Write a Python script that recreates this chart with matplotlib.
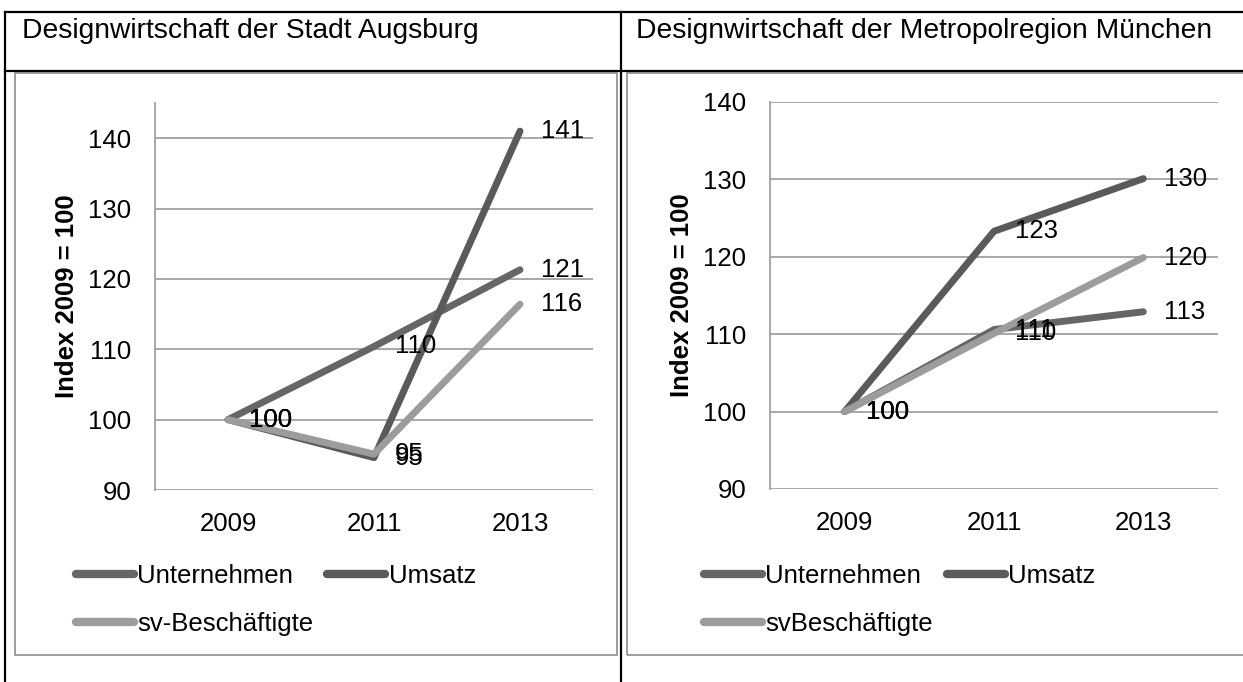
import matplotlib
matplotlib.use("Agg")
import matplotlib.pyplot as plt
from matplotlib.lines import Line2D
from matplotlib.patches import Rectangle

plt.rcParams['font.family'] = ['Liberation Sans', 'DejaVu Sans']

years = ['2009', '2011', '2013']
series_names_a = ['Unternehmen', 'Umsatz', 'sv-Beschäftigte']
series_names_m = ['Unternehmen', 'Umsatz', 'svBeschäftigte']

# Stadt Augsburg, Index 2009 = 100
unternehmen_a = [100, 110.4, 121.3]
umsatz_a = [100, 94.6, 141.0]
sv_a = [100, 95.1, 116.4]

# Metropolregion München
unternehmen_m = [100, 110.6, 112.9]
umsatz_m = [100, 123.3, 130.1]
sv_m = [100, 110.1, 119.9]

titles = ['Designwirtschaft der Stadt Augsburg',
          'Designwirtschaft der Metropolregion München']

colors = ['#666666', '#5a5a5a', '#9c9c9c']
W, H = 1243, 682
FS = 18.5


def fx(px):
    return px / W


def fy(py):
    return 1 - py / H


fig = plt.figure(figsize=(W / 100, H / 100), dpi=100)

# table frame
black = dict(color='black', lw=1.6, transform=fig.transFigure)
fig.add_artist(Line2D([fx(5), fx(1243)], [fy(12), fy(12)], **black))
fig.add_artist(Line2D([fx(5), fx(1243)], [fy(71), fy(71)], **black))
fig.add_artist(Line2D([fx(5), fx(5)], [fy(12), fy(682)], **black))
fig.add_artist(Line2D([fx(621), fx(621)], [fy(12), fy(682)], **black))

# inner chart frames
for x0, x1 in [(15, 617), (627, 1250)]:
    fig.add_artist(Rectangle((fx(x0), fy(655)), fx(x1 - x0), (655 - 73) / H,
                             transform=fig.transFigure, fill=False,
                             edgecolor='#8c8c8c', lw=1.2))

fig.text(fx(22), fy(31), titles[0], fontsize=20.3, va='center', ha='left')
fig.text(fx(636), fy(31), titles[1], fontsize=20.3, va='center', ha='left')


def draw_panel(rect, data, names, ymax, legend_x):
    ax = fig.add_axes(rect)
    x = range(len(years))
    lines = []
    for vals, c, name in zip(data, colors, names):
        ln, = ax.plot(x, vals, color=c, lw=5, solid_capstyle='round',
                      solid_joinstyle='round', label=name, zorder=3)
        lines.append(ln)
        for xi, v in zip(x, vals):
            ax.annotate(f'{round(v):d}', (xi, v), xytext=(15, 0),
                        textcoords='offset points', va='center', ha='left',
                        fontsize=FS, zorder=4)
    ax.set_xlim(-0.5, 2.5)
    ax.set_ylim(90, ymax)
    ax.set_yticks(range(90, 141, 10))
    ax.set_xticks(list(x))
    ax.set_xticklabels(years)
    ax.tick_params(axis='both', length=0, labelsize=FS)
    ax.tick_params(axis='y', pad=17)
    ax.tick_params(axis='x', pad=15.5)
    ax.yaxis.grid(True, color='#a0a0a0', lw=1.3)
    ax.set_axisbelow(True)
    for s in ['top', 'right', 'bottom']:
        ax.spines[s].set_visible(False)
    ax.spines['left'].set_color('#a0a0a0')
    ax.spines['left'].set_linewidth(1.3)
    ax.set_ylabel('Index 2009 = 100', fontsize=FS, fontweight='bold', labelpad=7)
    order = [0, 2, 1]
    leg = ax.legend([lines[i] for i in order], [names[i] for i in order],
                    ncol=2, frameon=False, fontsize=FS, loc='upper left',
                    bbox_to_anchor=(fx(legend_x), fy(564)), bbox_transform=fig.transFigure,
                    borderpad=0, borderaxespad=0, handlelength=2.26, handletextpad=0.12,
                    columnspacing=0.55, labelspacing=0.93)
    for hl in leg.get_lines():
        hl.set_linewidth(6)
    return ax


draw_panel([fx(155), fy(490), fx(593 - 155), 387 / H],
           [unternehmen_a, umsatz_a, sv_a], series_names_a, 145, 76)
draw_panel([fx(770), fy(489), fx(1218 - 770), 387 / H],
           [unternehmen_m, umsatz_m, sv_m], series_names_m, 140, 704)

fig.savefig('out.png', dpi=100)
